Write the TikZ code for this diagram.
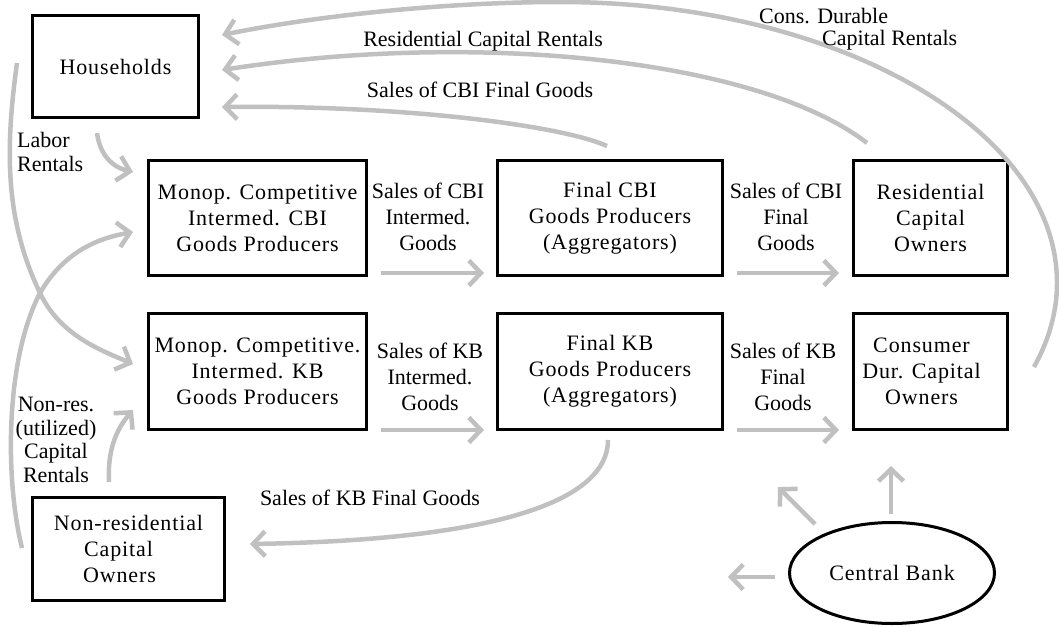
\documentclass[tikz,border=0pt]{standalone}
\usepackage{fontspec}
\setmainfont{Liberation Serif}
\usetikzlibrary{arrows.meta,shapes.geometric}
\definecolor{flowgray}{RGB}{192,192,192}
\newcommand\myboxfont{\fontsize{22}{26}\selectfont\addfontfeature{LetterSpace=4}}
\newcommand\mylabfont{\fontsize{22}{26}\selectfont}
\newcommand\mylabfonttight{\fontsize{22}{23.5}\selectfont}
\newcommand\padr[1]{\hspace*{#1}\mbox{}}
\begin{document}
\begin{tikzpicture}[x=1pt,y=-1pt,
  box/.style={draw=black,line width=3pt,align=center,font=\myboxfont,inner sep=0pt},
  flow/.style={draw=flowgray,line width=4.5pt,-{Straight Barb[length=12pt,width=25pt]}},
  lab/.style={font=\mylabfont,align=center,inner sep=0pt},
  labt/.style={font=\mylabfonttight,align=center,inner sep=0pt}]
\useasboundingbox (0,0) rectangle (1059,626);

% boxes
\node[box,minimum width=166pt,minimum height=102pt] (hh) at (115.5,66.5) {Households};
\node[box,minimum width=218pt,minimum height=115pt] (mcbi) at (257.5,218) {Monop. Competitive\\Intermed. CBI\\Goods Producers};
\node[box,minimum width=225pt,minimum height=115pt] (fcbi) at (610,218) {Final CBI\\Goods Producers\\(Aggregators)};
\node[box,minimum width=154pt,minimum height=115pt] (rco) at (930.5,218) {Residential\\Capital\\Owners};
\node[box,minimum width=218pt,minimum height=116pt] (mkb) at (257.5,371.5) {Monop. Competitive.\\Intermed. KB\\Goods Producers};
\node[box,minimum width=225pt,minimum height=116pt] (fkb) at (610,371.5) {Final KB\\Goods Producers\\(Aggregators)};
\node[box,minimum width=154pt,minimum height=116pt] (cdco) at (930.5,371.5) {Consumer\padr{18pt}\\Dur. Capital\padr{18pt}\\Owners\padr{18pt}};
\node[box,minimum width=192pt,minimum height=103pt] (nrco) at (128.5,549) {Non-residential\\Capital\padr{20pt}\\Owners\padr{18pt}};
\node[box,ellipse,minimum width=205pt,minimum height=101pt] (cb) at (892,573) {Central Bank};

% coordinates
\coordinate (lrS) at (97,133);   \coordinate (lrE) at (133,172);
\coordinate (hkS) at (17,63);    \coordinate (hkM) at (40,293);  \coordinate (hkE) at (133,364);
\coordinate (ncS) at (22,548);   \coordinate (ncE) at (133,232);
\coordinate (nkS) at (109,482);  \coordinate (nkE) at (133,410);
\coordinate (ciS) at (381,273);  \coordinate (ciE) at (484,273);
\coordinate (cfS) at (737,273);  \coordinate (cfE) at (839,273);
\coordinate (kiS) at (381,430);  \coordinate (kiE) at (484,430);
\coordinate (kfS) at (737,430);  \coordinate (kfE) at (839,430);
\coordinate (kgS) at (608,440);  \coordinate (kgE) at (250,544);
\coordinate (cgS) at (607,146);  \coordinate (cgE) at (222,107);
\coordinate (rrS) at (867,143);  \coordinate (rrE) at (222,70);
\coordinate (cdS) at (1034,367); \coordinate (cdR) at (1057,283); \coordinate (cdT) at (560,2); \coordinate (cdE) at (222,35);
\coordinate (b1S) at (815,524);  \coordinate (b1E) at (778,487);
\coordinate (b2S) at (891,514);  \coordinate (b2E) at (891,466);
\coordinate (b3S) at (775,577);  \coordinate (b3E) at (728,577);

% flows
\draw[flow] (lrS) .. controls (100,155) and (112,167) .. (lrE);
\draw[flow] (hkS) .. controls (5,150) and (5,220) .. (hkM) .. controls (60,335) and (100,350) .. (hkE);
\draw[flow] (ncS) .. controls (5,480) and (5,360) .. (hkM) .. controls (65,250) and (100,238) .. (ncE);
\draw[flow] (nkS) .. controls (107,445) and (120,425) .. (nkE);
\draw[flow] (ciS) -- (ciE);
\draw[flow] (cfS) -- (cfE);
\draw[flow] (kiS) -- (kiE);
\draw[flow] (kfS) -- (kfE);
\draw[flow] (kgS) .. controls (608,500) and (500,540) .. (kgE);
\draw[flow] (cgS) .. controls (560,125) and (400,105) .. (cgE);
\draw[flow] (rrS) .. controls (760,60) and (480,30) .. (rrE);
\draw[flow] (cdS) .. controls (1049,340) and (1057,311.5) .. (cdR) .. controls (1057,127.8) and (834.5,2) .. (cdT) .. controls (450,2) and (320,15) .. (cdE);
\draw[flow] (b1S) -- (b1E);
\draw[flow] (b2S) -- (b2E);
\draw[flow] (b3S) -- (b3E);

% labels
\node[lab] (l1) at (480,90) {Sales of CBI Final Goods};
\node[lab] (l2) at (483,41) {Residential Capital Rentals};
\node[lab,anchor=west] (l3a) at (759,16) {Cons. Durable};
\node[lab,anchor=west] (l3b) at (822,40) {Capital Rentals};
\node[labt,align=left,anchor=west] (l4) at (17,152) {Labor\\Rentals};
\node[lab] (l5) at (428,217) {Sales of CBI\\Intermed.\\Goods};
\node[lab] (l6) at (786,217) {Sales of CBI\\Final\\Goods};
\node[lab] (l7) at (430,377) {Sales of KB\\Intermed.\\Goods};
\node[lab] (l8) at (783,377) {Sales of KB\\Final\\Goods};
\node[labt] (l9) at (56,440) {Non-res.\\(utilized)\\Capital\\Rentals};
\node[lab] (l10) at (370,498) {Sales of KB Final Goods};
\end{tikzpicture}
\end{document}
